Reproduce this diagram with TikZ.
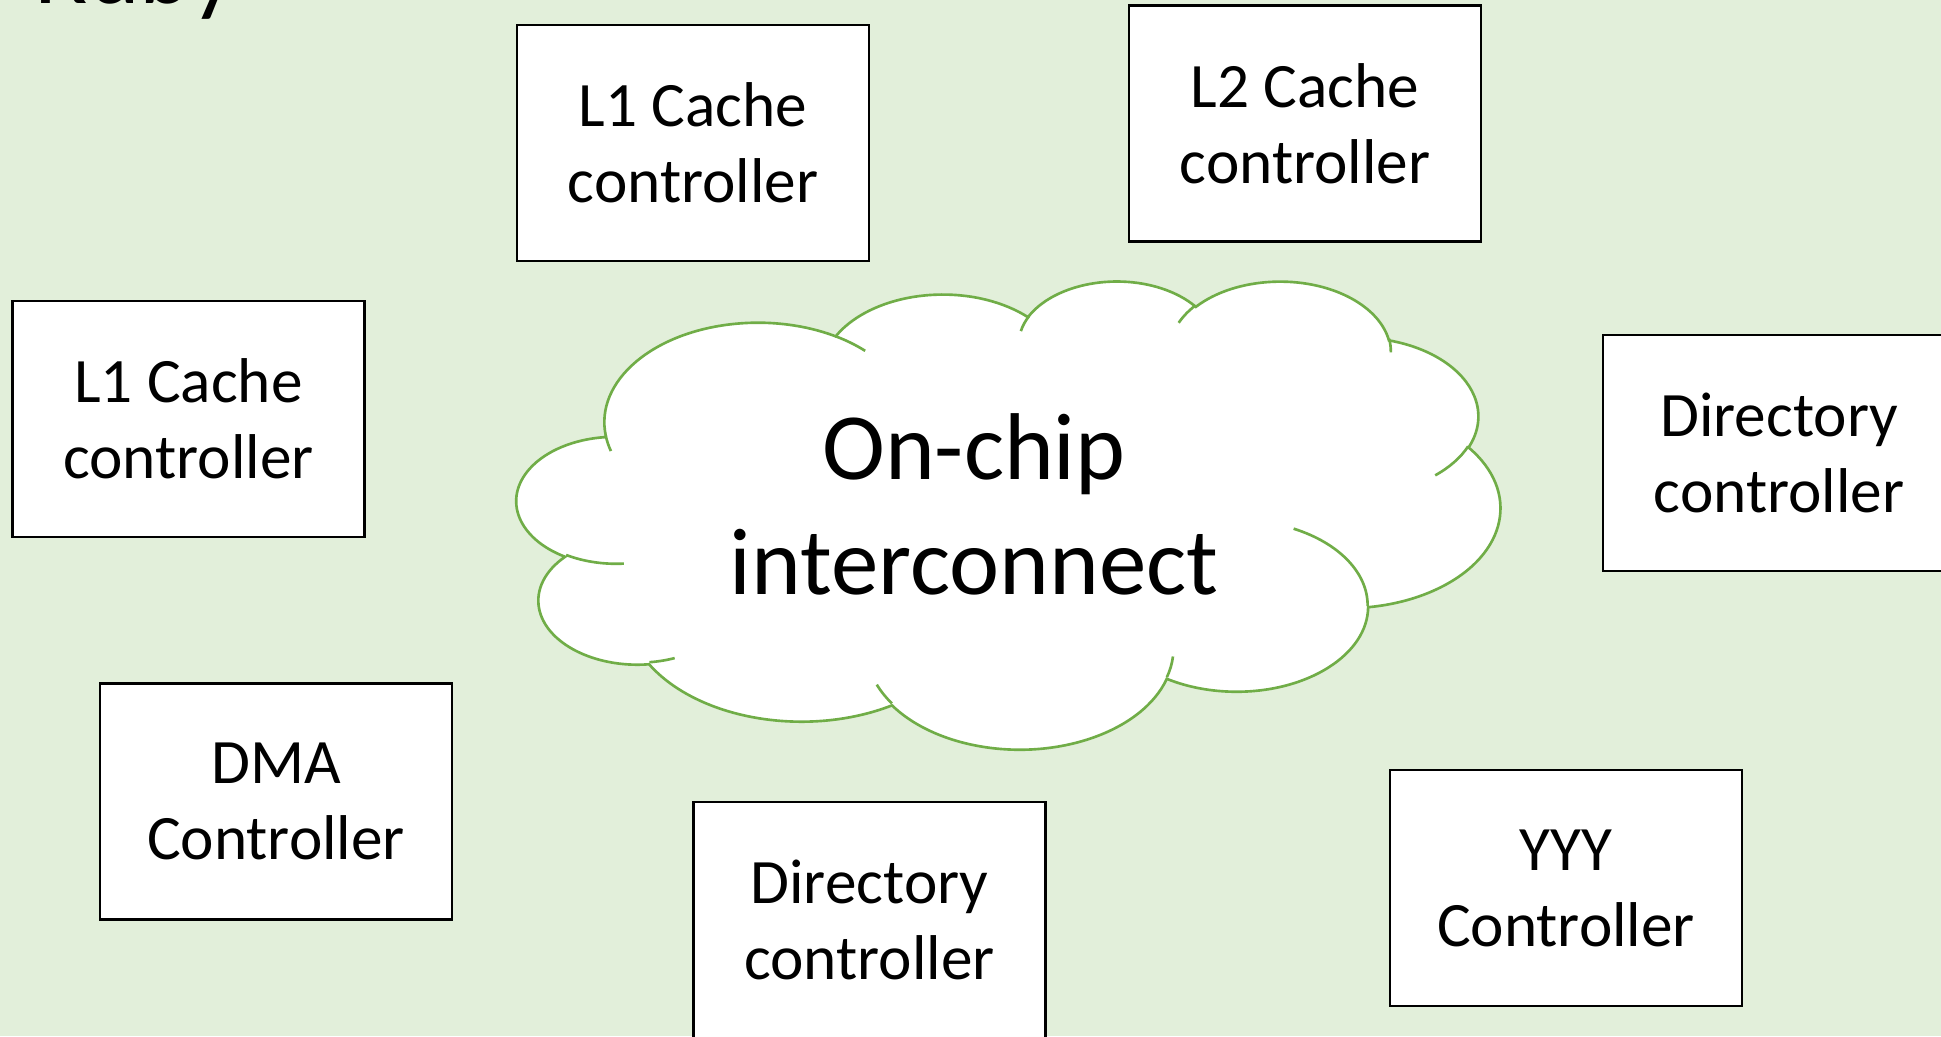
\documentclass[tikz,border=0pt]{standalone}
\usepackage{fontspec}
\setmainfont{Carlito}
\definecolor{slidebg}{HTML}{E2EFDA}
\definecolor{cloudgreen}{HTML}{70AD47}
% scale of the cloud outline: path units (1/1000 of a 43200 frame) to cm
\def\csx{0.22755}
\def\csy{0.10833}
\tikzset{
  unitbox/.style={draw=black, line width=0.7pt, fill=white,
    minimum width=3.52cm, minimum height=2.36cm, inner sep=0pt,
    align=center, font=\fontsize{18}{21.6}\selectfont},
  cloudline/.style={draw=cloudgreen, line width=0.75pt},
  % elliptic arc continuing from the current point:
  % x radius, y radius, start angle, sweep (visual angles, y pointing down)
  cloudarc/.style n args={4}{insert path={
    arc[start angle={-atan2(#1*sin(#3),#2*cos(#3))},
        delta angle={-mod(atan2(#1*sin(#3+#4),#2*cos(#3+#4))-atan2(#1*sin(#3),#2*cos(#3))+720,360)},
        x radius={#1*\csx*1cm}, y radius={#2*\csy*1cm}]}},
}
\begin{document}
\begin{tikzpicture}
\clip (0,0) rectangle (19.41,10.36);
\fill[slidebg] (0,0) rectangle (19.41,10.36);

% title, cut by the top edge
\node[anchor=base west, inner sep=0pt, font=\fontsize{28}{33}\selectfont] (title) at (0.34,10.32) {Ruby};

% the interconnect cloud
\begin{scope}[shift={(5.17,7.56)}, x=\csx cm, y=-\csy cm]
  \filldraw[cloudline, fill=white] (3.900,14.370)
    [cloudarc={6.753}{9.190}{-190.4875}{123.7805}]
    [cloudarc={5.333}{7.267}{-144.1024}{89.9452}]
    [cloudarc={4.365}{5.945}{-145.8079}{99.7230}]
    [cloudarc={4.857}{6.595}{-130.9861}{117.2417}]
    [cloudarc={5.333}{7.273}{-78.7089}{109.0269}]
    [cloudarc={6.775}{9.220}{-46.2673}{130.2690}]
    [cloudarc={5.785}{7.867}{0.6250}{114.0333}]
    [cloudarc={6.752}{9.215}{22.4516}{115.1726}]
    [cloudarc={7.720}{10.543}{66.2426}{75.7110}]
    [cloudarc={4.360}{5.918}{-274.9421}{146.7356}]
    [cloudarc={4.345}{5.945}{-246.8285}{152.5189}] -- cycle;
  \draw[cloudline]
    (4.693,26.177) [cloudarc={4.345}{5.945}{86.7420}{26.4295}]
    (6.928,34.899) [cloudarc={4.360}{5.918}{73.6105}{11.4475}]
    (16.478,39.090) [cloudarc={6.752}{9.215}{137.6242}{14.0811}]
    (28.827,34.751) [cloudarc={6.752}{9.215}{6.4533}{15.9984}]
    (34.129,22.954) [cloudarc={5.785}{7.867}{-70.2924}{70.9174}]
    (41.798,15.354) [cloudarc={5.333}{7.273}{30.3180}{27.7515}]
    (38.324,5.426) [cloudarc={4.857}{6.595}{-13.7443}{14.8589}]
    (29.078,3.952) [cloudarc={4.857}{6.595}{-149.1815}{18.1954}]
    (22.141,4.720) [cloudarc={4.365}{5.945}{-163.4943}{17.6864}]
    (14.000,5.192) [cloudarc={6.753}{9.190}{-66.7070}{12.3194}]
    (4.127,15.789) [cloudarc={6.753}{9.190}{157.6544}{11.8582}];
\end{scope}
\node[align=center, inner sep=0pt, font=\fontsize{27}{32.7}\selectfont] (net) at (9.74,5.32) {On-chip\\interconnect};

% controllers around the interconnect
\node[unitbox] (l1a) at (6.93,8.93) {L1 Cache\\controller};
\node[unitbox] (l2) at (13.05,9.125) {L2 Cache\\controller};
\node[unitbox] (l1b) at (1.885,6.17) {L1 Cache\\controller};
\node[unitbox] (dira) at (17.79,5.83) {Directory\\controller};
\node[unitbox] (dma) at (2.76,2.345) {DMA\\Controller};
\node[unitbox] (dirb) at (8.695,1.16) {Directory\\controller};
\node[unitbox] (yyy) at (15.66,1.48) {YYY\\Controller};
\end{tikzpicture}
\end{document}
